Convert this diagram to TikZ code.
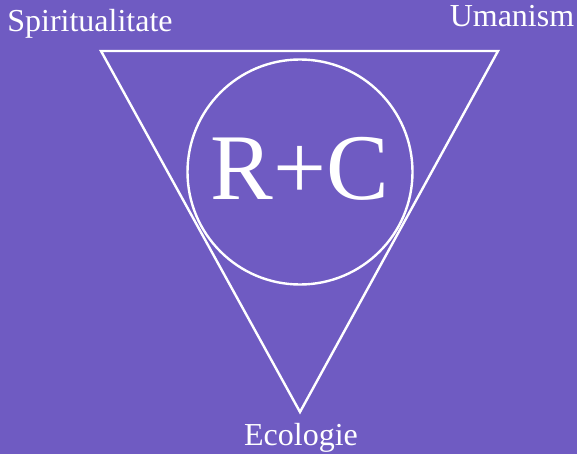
\documentclass[tikz,border=0pt]{standalone}
\usepackage{fontspec}
\setmainfont{Liberation Serif}
\definecolor{bgpurple}{RGB}{111,91,194}
\begin{document}
\begin{tikzpicture}[x=1pt,y=-1pt,
  lbl/.style={text=white,font=\fontsize{32}{36}\selectfont,anchor=base,inner sep=0pt},
  edge/.style={draw=white,line width=2.4pt,line join=miter}]
\fill[bgpurple] (0,0) rectangle (577,454);
\useasboundingbox (0,0) rectangle (577,454);
\coordinate (tl) at (101,51);
\coordinate (tr) at (498,51);
\coordinate (bt) at (300,412);
\draw[edge] (tl) -- (tr) -- (bt) -- cycle;
\node[circle,edge,minimum size=225pt,inner sep=0pt] (circ) at (300,172) {};
\node[text=white,font=\fontsize{94}{100}\selectfont,anchor=base,inner sep=0pt] (rc) at (300,200) {R+C};
\node[lbl] (sp) at (90,32) {Spiritualitate};
\node[lbl] (um) at (512,27) {Umanism};
\node[lbl] (ec) at (301,445) {Ecologie};
\end{tikzpicture}
\end{document}
